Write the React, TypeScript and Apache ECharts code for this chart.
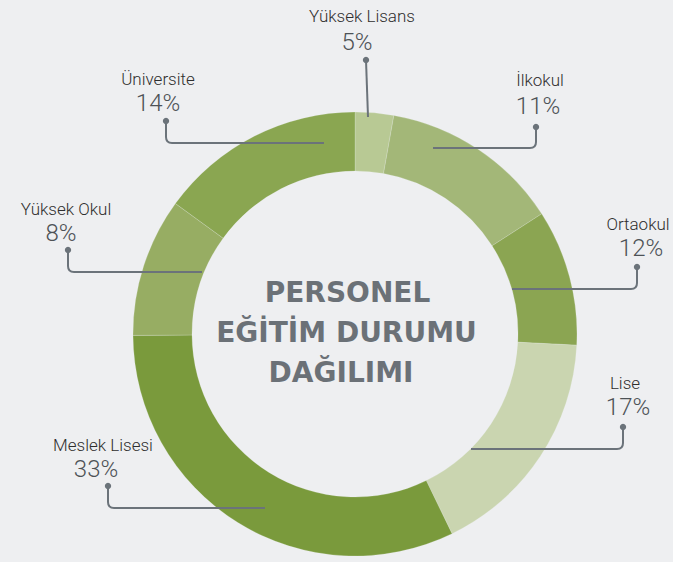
import React, { useEffect, useRef } from "react";
import * as echarts from "echarts";

// ---- data ----
const categories = ["Yüksek Lisans", "İlkokul", "Ortaokul", "Lise", "Meslek Lisesi", "Yüksek Okul", "Üniversite"];
// share of the ring each slice occupies as drawn
const sliceShares = [2.8, 13.1, 9.9, 17.0, 32.1, 10.1, 15.0];
// percentages printed in the labels
const labelPercents = [5, 11, 12, 17, 33, 8, 14];
const sliceColors = ["#b8c994", "#a3b778", "#8ba552", "#cad5b0", "#7a9a3c", "#97ad63", "#8aa651"];
const titleLines = ["PERSONEL", "EĞİTİM DURUMU", "DAĞILIMI"];

// ---- annotation layout (page pixels) ----
const annotationLayout = [
  { nameX: 362, nameY: 16, pctX: 357, pctY: 41.5, dotX: 366, dotY: 60, startX: 368, startY: 117 },
  { nameX: 540, nameY: 80, pctX: 538, pctY: 105.5, dotX: 536, dotY: 127, startX: 433, startY: 148 },
  { nameX: 638, nameY: 223.5, pctX: 641, pctY: 248, dotX: 637, dotY: 267, startX: 512, startY: 289 },
  { nameX: 625, nameY: 382.5, pctX: 628, pctY: 406.5, dotX: 623, dotY: 427, startX: 471, startY: 449 },
  { nameX: 103, nameY: 444.5, pctX: 96, pctY: 469, dotX: 108, dotY: 486, startX: 265, startY: 508 },
  { nameX: 66, nameY: 208.5, pctX: 61, pctY: 233, dotX: 68, dotY: 250, startX: 202, startY: 272 },
  { nameX: 158, nameY: 78.5, pctX: 158, pctY: 103, dotX: 166, dotY: 121, startX: 324, startY: 143 },
];
const titleLayout = [
  { x: 347.5, y: 292 },
  { x: 346.5, y: 332 },
  { x: 341, y: 372 },
];

const LINE_COLOR = "#6b737a";

echarts.graphic.registerShape(
  "leader",
  echarts.graphic.extendShape({
    shape: { sx: 0, sy: 0, cx: 0, ey: 0, r: 6 },
    buildPath(ctx: any, s: any) {
      const dx = s.cx - s.sx;
      if (Math.abs(dx) < s.r * 2) {
        ctx.moveTo(s.sx, s.sy);
        ctx.lineTo(s.cx, s.ey);
        return;
      }
      const dir = Math.sign(dx);
      const vdir = Math.sign(s.ey - s.sy);
      ctx.moveTo(s.sx, s.sy);
      ctx.lineTo(s.cx - dir * s.r, s.sy);
      ctx.quadraticCurveTo(s.cx, s.sy, s.cx, s.sy + vdir * s.r);
      ctx.lineTo(s.cx, s.ey);
    },
  })
);

export default function App() {
  const ref = useRef<HTMLDivElement>(null);

  useEffect(() => {
    if (!ref.current) return;
    const chart = echarts.init(ref.current, null, { renderer: "svg" });

    const graphics: any[] = [];
    annotationLayout.forEach((a, i) => {
      graphics.push({
        type: "leader",
        z: 100,
        shape: { sx: a.startX, sy: a.startY, cx: a.dotX, ey: a.dotY, r: 6 },
        style: { stroke: LINE_COLOR, lineWidth: 2, fill: "none" },
      });
      graphics.push({
        type: "circle",
        z: 101,
        shape: { cx: a.dotX, cy: a.dotY, r: 3.2 },
        style: { fill: LINE_COLOR },
      });
      graphics.push({
        type: "text",
        z: 101,
        x: a.nameX,
        y: a.nameY,
        style: {
          text: categories[i],
          fill: "#2e2e2e",
          font: "300 17px Roboto",
          lineHeight: 16,
          align: "center",
          verticalAlign: "middle",
        },
      });
      graphics.push({
        type: "text",
        z: 101,
        x: a.pctX,
        y: a.pctY,
        style: {
          text: labelPercents[i] + "%",
          fill: "#4d5256",
          font: "300 24px Roboto",
          lineHeight: 20,
          align: "center",
          verticalAlign: "middle",
        },
      });
    });
    titleLines.forEach((t, i) => {
      graphics.push({
        type: "text",
        z: 101,
        x: titleLayout[i].x,
        y: titleLayout[i].y,
        style: {
          text: t,
          fill: "#6b7177",
          font: "bold 28px 'DejaVu Sans'",
          align: "center",
          verticalAlign: "middle",
        },
      });
    });

    chart.setOption({
      animation: false,
      backgroundColor: "#eeeff1",
      series: [
        {
          type: "pie",
          center: [355, 334],
          radius: [163, 222],
          startAngle: 90,
          clockwise: true,
          silent: true,
          avoidLabelOverlap: false,
          label: { show: false },
          labelLine: { show: false },
          itemStyle: { borderColor: "rgba(238,239,241,0.35)", borderWidth: 0.6 },
          data: categories.map((c, i) => ({
            name: c,
            value: sliceShares[i],
            itemStyle: { color: sliceColors[i] },
          })),
        },
      ],
      graphic: graphics,
    });

    return () => chart.dispose();
  }, []);

  return (
    <div
      ref={ref}
      style={{ position: "fixed", left: 0, top: 0, width: 673, height: 562 }}
    />
  );
}
